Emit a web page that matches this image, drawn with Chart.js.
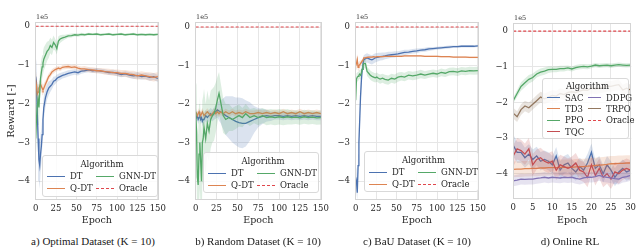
<!DOCTYPE html>
<html>
<head>
<meta charset="utf-8">
<script src="https://cdn.jsdelivr.net/npm/chart.js@4.4.1/dist/chart.umd.min.js"></script>
<style>
    html, body { margin: 0; padding: 0; background: #fff; }
    body { width: 640px; height: 249px; position: relative; overflow: hidden; font-family: 'DejaVu Serif', serif; color: #262626; }
    canvas { position: absolute; top: 0; }
    .legend { position: absolute; box-sizing: border-box; border: 1px solid #d9d9d9; border-radius: 3px; background: rgba(255,255,255,0.82); font-size: 8.5px; color: #262626; }
    .legend .ttl { text-align: center; line-height: 12px; }
    .legend .grid { display: grid; grid-auto-flow: column; }
    .legend .item { display: flex; align-items: center; white-space: nowrap; }
    .legend .hd { display: inline-block; height: 0; margin-right: 5px; }
    .caption { position: absolute; top: 235px; font-family: 'Liberation Serif', serif; font-size: 11px; color: #1a1a1a; transform: translateX(-50%); white-space: nowrap; }
</style>
</head>
<body>
<canvas id="chartA" width="170" height="226" style="left:0px"></canvas>
<canvas id="chartB" width="168" height="226" style="left:165px"></canvas>
<canvas id="chartC" width="163" height="226" style="left:327px"></canvas>
<canvas id="chartD" width="154" height="226" style="left:486px"></canvas>

<div class="caption" style="left:93px">a) Optimal Dataset (K = 10)</div>
<div class="caption" style="left:258px">b) Random Dataset (K = 10)</div>
<div class="caption" style="left:417px">c) BaU Dataset (K = 10)</div>
<div class="caption" style="left:570px">d) Online RL</div>

<script>
"use strict";

// axes / ticks
var epochsOffline = [0, 1, 2, 3, 4, 5, 6, 7, 8, 9, 10, 12, 14, 16, 18, 20, 22, 24, 26, 28, 30, 33, 36, 40, 44, 48, 52, 56, 60, 65, 70, 75, 80, 85, 90, 95, 100, 105, 110, 115, 120, 125, 130, 135, 140, 145, 150];
var epochsOnline = [0, 1, 2, 3, 4, 5, 6, 7, 8, 9, 10, 11, 12, 13, 14, 15, 16, 17, 18, 19, 20, 21, 22, 23, 24, 25, 26, 27, 28, 29, 30];
var xTicksOffline = [0, 25, 50, 75, 100, 125, 150];
var xTicksOnline = [0, 5, 10, 15, 20, 25, 30];
var yTicks = [0, -1, -2, -3, -4];
var oracleReward = 0; // x 1e5

// a) Optimal dataset  (reward x 1e5)
var optDT = [-1.30, -1.45, -2.20, -2.90, -3.45, -3.60, -3.30, -3.10, -2.80, -2.40, -2.10, -1.85, -1.70, -1.60, -1.55, -1.50, -1.42, -1.40, -1.35, -1.32, -1.30, -1.27, -1.25, -1.22, -1.20, -1.18, -1.20, -1.16, -1.15, -1.13, -1.15, -1.14, -1.16, -1.17, -1.20, -1.19, -1.22, -1.25, -1.23, -1.26, -1.28, -1.27, -1.30, -1.29, -1.32, -1.30, -1.35];
var optDTBand = [0.55, 0.5, 0.45, 0.5, 0.55, 0.6, 0.5, 0.45, 0.4, 0.35, 0.3, 0.25, 0.2, 0.18, 0.15, 0.13, 0.12, 0.1, 0.1, 0.09, 0.09, 0.08, 0.08, 0.08, 0.07, 0.07, 0.07, 0.07, 0.06, 0.06, 0.06, 0.06, 0.06, 0.06, 0.06, 0.07, 0.07, 0.07, 0.07, 0.08, 0.08, 0.08, 0.08, 0.08, 0.09, 0.09, 0.09];
var optQDT = [-1.40, -1.55, -1.75, -1.70, -1.60, -1.55, -1.50, -1.55, -1.60, -1.65, -1.60, -1.50, -1.40, -1.30, -1.25, -1.18, -1.15, -1.12, -1.10, -1.08, -1.10, -1.06, -1.05, -1.04, -1.06, -1.05, -1.08, -1.10, -1.10, -1.12, -1.13, -1.15, -1.15, -1.17, -1.18, -1.20, -1.20, -1.22, -1.22, -1.24, -1.25, -1.28, -1.26, -1.28, -1.30, -1.32, -1.30];
var optQDTBand = [0.3, 0.3, 0.25, 0.2, 0.18, 0.15, 0.15, 0.15, 0.14, 0.13, 0.12, 0.1, 0.09, 0.08, 0.08, 0.07, 0.07, 0.06, 0.06, 0.06, 0.06, 0.06, 0.06, 0.06, 0.06, 0.06, 0.06, 0.06, 0.07, 0.07, 0.07, 0.07, 0.07, 0.08, 0.08, 0.08, 0.08, 0.09, 0.09, 0.09, 0.1, 0.1, 0.1, 0.1, 0.11, 0.11, 0.11];
var optGNN = [-2.90, -2.40, -2.05, -1.90, -2.10, -1.70, -1.35, -1.20, -1.05, -0.95, -0.85, -0.75, -0.65, -0.60, -0.50, -0.55, -0.42, -0.48, -0.58, -0.38, -0.33, -0.30, -0.28, -0.25, -0.24, -0.22, -0.23, -0.21, -0.22, -0.20, -0.21, -0.20, -0.22, -0.21, -0.20, -0.22, -0.21, -0.20, -0.22, -0.21, -0.20, -0.22, -0.21, -0.22, -0.21, -0.22, -0.21];
var optGNNBand = [0.6, 0.6, 0.5, 0.45, 0.45, 0.4, 0.35, 0.35, 0.3, 0.3, 0.3, 0.28, 0.25, 0.22, 0.2, 0.2, 0.18, 0.15, 0.15, 0.12, 0.1, 0.08, 0.06, 0.05, 0.05, 0.04, 0.04, 0.04, 0.04, 0.03, 0.03, 0.03, 0.03, 0.03, 0.03, 0.03, 0.03, 0.03, 0.03, 0.03, 0.03, 0.03, 0.03, 0.03, 0.03, 0.03, 0.03];

// b) Random dataset
var rndDT = [-2.30, -2.35, -2.30, -2.40, -2.35, -2.30, -2.40, -2.35, -2.45, -2.40, -2.40, -2.30, -2.35, -2.30, -2.25, -2.30, -2.25, -2.20, -2.15, -2.18, -2.20, -2.25, -2.30, -2.35, -2.40, -2.45, -2.48, -2.50, -2.50, -2.45, -2.40, -2.35, -2.32, -2.30, -2.32, -2.30, -2.30, -2.32, -2.30, -2.32, -2.30, -2.32, -2.30, -2.32, -2.30, -2.32, -2.32];
var rndDTBand = [0.1, 0.1, 0.12, 0.12, 0.12, 0.12, 0.12, 0.12, 0.13, 0.13, 0.13, 0.14, 0.15, 0.15, 0.15, 0.15, 0.16, 0.18, 0.2, 0.25, 0.3, 0.4, 0.5, 0.55, 0.6, 0.62, 0.65, 0.65, 0.6, 0.5, 0.35, 0.25, 0.2, 0.15, 0.12, 0.1, 0.1, 0.1, 0.1, 0.1, 0.1, 0.1, 0.1, 0.1, 0.1, 0.1, 0.1];
var rndQDT = [-2.20, -2.25, -2.30, -2.25, -2.20, -2.25, -2.30, -2.25, -2.20, -2.25, -2.30, -2.25, -2.20, -2.25, -2.30, -2.25, -2.20, -2.25, -2.20, -2.25, -2.20, -2.25, -2.20, -2.25, -2.20, -2.25, -2.22, -2.25, -2.20, -2.25, -2.25, -2.22, -2.25, -2.22, -2.25, -2.22, -2.25, -2.20, -2.25, -2.22, -2.25, -2.20, -2.25, -2.22, -2.25, -2.22, -2.25];
var rndQDTBand = [0.1, 0.1, 0.1, 0.1, 0.1, 0.1, 0.1, 0.1, 0.1, 0.1, 0.1, 0.09, 0.09, 0.09, 0.09, 0.09, 0.09, 0.09, 0.09, 0.09, 0.08, 0.08, 0.08, 0.08, 0.08, 0.08, 0.08, 0.08, 0.08, 0.08, 0.08, 0.08, 0.08, 0.08, 0.08, 0.08, 0.08, 0.08, 0.08, 0.08, 0.08, 0.08, 0.08, 0.08, 0.08, 0.08, 0.08];
var rndGNN = [-2.20, -2.70, -3.90, -4.10, -3.30, -3.00, -3.50, -4.00, -3.00, -2.90, -2.60, -2.90, -2.50, -2.70, -2.40, -2.30, -2.25, -2.10, -1.90, -1.72, -1.95, -2.30, -2.40, -2.35, -2.40, -2.35, -2.30, -2.35, -2.25, -2.35, -2.30, -2.35, -2.30, -2.35, -2.33, -2.35, -2.33, -2.35, -2.33, -2.35, -2.34, -2.36, -2.33, -2.35, -2.34, -2.36, -2.35];
var rndGNNBand = [0.8, 1.2, 1.3, 1.3, 1.3, 1.2, 1.2, 1.2, 1.1, 1.1, 1.0, 0.9, 0.85, 0.8, 0.75, 0.7, 0.7, 0.65, 0.6, 0.55, 0.5, 0.45, 0.4, 0.35, 0.3, 0.3, 0.28, 0.25, 0.25, 0.22, 0.2, 0.2, 0.2, 0.2, 0.2, 0.2, 0.2, 0.2, 0.2, 0.18, 0.18, 0.18, 0.18, 0.18, 0.18, 0.18, 0.18];

// c) BaU dataset
var bauDT = [-3.90, -4.00, -4.30, -3.60, -3.00, -2.40, -1.80, -1.40, -1.10, -0.95, -0.85, -0.82, -0.80, -0.82, -0.84, -0.85, -0.83, -0.80, -0.79, -0.78, -0.77, -0.76, -0.75, -0.73, -0.72, -0.71, -0.70, -0.68, -0.66, -0.65, -0.63, -0.62, -0.60, -0.59, -0.57, -0.56, -0.55, -0.54, -0.53, -0.52, -0.51, -0.51, -0.50, -0.50, -0.50, -0.50, -0.49];
var bauDTBand = [0.3, 0.3, 0.2, 0.3, 0.35, 0.35, 0.3, 0.25, 0.2, 0.15, 0.12, 0.12, 0.12, 0.12, 0.12, 0.12, 0.12, 0.12, 0.11, 0.11, 0.1, 0.1, 0.09, 0.09, 0.08, 0.08, 0.07, 0.07, 0.07, 0.06, 0.06, 0.06, 0.05, 0.05, 0.05, 0.04, 0.04, 0.04, 0.04, 0.04, 0.03, 0.03, 0.03, 0.03, 0.03, 0.03, 0.03];
var bauQDT = [-1.00, -0.95, -0.85, -1.05, -1.00, -0.98, -0.95, -0.92, -0.88, -0.85, -0.80, -0.80, -0.79, -0.78, -0.78, -0.78, -0.77, -0.78, -0.77, -0.77, -0.77, -0.77, -0.76, -0.76, -0.76, -0.76, -0.76, -0.76, -0.75, -0.75, -0.75, -0.75, -0.75, -0.76, -0.76, -0.76, -0.76, -0.77, -0.77, -0.77, -0.78, -0.78, -0.78, -0.78, -0.79, -0.79, -0.79];
var bauQDTBand = [0.15, 0.15, 0.15, 0.12, 0.1, 0.1, 0.08, 0.06, 0.05, 0.04, 0.03, 0.03, 0.03, 0.03, 0.03, 0.03, 0.02, 0.02, 0.02, 0.02, 0.02, 0.02, 0.02, 0.02, 0.02, 0.02, 0.02, 0.02, 0.02, 0.02, 0.02, 0.02, 0.02, 0.02, 0.02, 0.02, 0.02, 0.02, 0.02, 0.02, 0.02, 0.02, 0.02, 0.02, 0.02, 0.02, 0.02];
var bauGNN = [-1.90, -1.35, -1.30, -1.28, -1.25, -1.22, -1.25, -1.20, -1.10, -1.00, -0.95, -0.95, -1.15, -1.20, -1.25, -1.28, -1.30, -1.32, -1.30, -1.33, -1.35, -1.33, -1.36, -1.38, -1.33, -1.35, -1.30, -1.28, -1.30, -1.25, -1.27, -1.25, -1.22, -1.25, -1.22, -1.20, -1.22, -1.18, -1.20, -1.16, -1.15, -1.17, -1.14, -1.15, -1.13, -1.14, -1.13];
var bauGNNBand = [0.3, 0.15, 0.12, 0.12, 0.12, 0.12, 0.12, 0.12, 0.12, 0.12, 0.12, 0.12, 0.12, 0.12, 0.12, 0.12, 0.12, 0.12, 0.12, 0.12, 0.12, 0.12, 0.12, 0.12, 0.12, 0.12, 0.12, 0.11, 0.11, 0.11, 0.11, 0.11, 0.11, 0.1, 0.1, 0.1, 0.1, 0.1, 0.1, 0.1, 0.1, 0.1, 0.1, 0.1, 0.1, 0.1, 0.1];

// d) Online RL
var onSAC = [-3.20, -3.40, -3.40, -3.55, -3.45, -3.60, -3.50, -3.65, -3.60, -3.65, -3.75, -3.50, -3.90, -3.75, -3.70, -3.85, -3.95, -3.80, -3.90, -3.70, -3.40, -3.85, -3.75, -4.00, -3.75, -3.90, -4.10, -3.95, -3.85, -3.95, -3.90];
var onSACBand = [0.3, 0.3, 0.3, 0.28, 0.28, 0.28, 0.26, 0.26, 0.25, 0.25, 0.25, 0.25, 0.25, 0.25, 0.25, 0.25, 0.25, 0.25, 0.25, 0.25, 0.25, 0.25, 0.25, 0.25, 0.25, 0.25, 0.25, 0.25, 0.25, 0.25, 0.25];
var onTD3 = [-3.88, -3.87, -3.87, -3.86, -3.86, -3.85, -3.85, -3.84, -3.84, -3.83, -3.83, -3.83, -3.82, -3.82, -3.82, -3.82, -3.81, -3.80, -3.80, -3.79, -3.78, -3.77, -3.76, -3.75, -3.74, -3.72, -3.72, -3.71, -3.71, -3.70, -3.70];
var onTD3Band = [0.22, 0.22, 0.22, 0.22, 0.22, 0.22, 0.22, 0.22, 0.22, 0.22, 0.22, 0.22, 0.22, 0.22, 0.22, 0.22, 0.22, 0.22, 0.22, 0.22, 0.22, 0.22, 0.22, 0.22, 0.22, 0.22, 0.22, 0.22, 0.22, 0.22, 0.22];
var onPPO = [-1.95, -1.75, -1.55, -1.45, -1.35, -1.30, -1.20, -1.15, -1.12, -1.08, -1.07, -1.07, -1.05, -1.05, -1.03, -1.06, -1.02, -1.00, -0.99, -1.00, -0.98, -0.95, -0.97, -0.96, -0.95, -0.97, -0.95, -0.94, -0.95, -0.96, -0.95];
var onPPOBand = [0.08, 0.1, 0.12, 0.12, 0.12, 0.11, 0.1, 0.1, 0.1, 0.09, 0.08, 0.08, 0.08, 0.08, 0.07, 0.07, 0.07, 0.07, 0.07, 0.07, 0.06, 0.06, 0.06, 0.06, 0.06, 0.06, 0.06, 0.06, 0.06, 0.06, 0.06];
var onTQC = [-3.50, -3.30, -3.35, -3.45, -3.30, -3.75, -3.60, -3.55, -3.65, -3.70, -3.65, -3.90, -3.75, -3.80, -3.85, -3.80, -3.70, -3.90, -3.95, -4.10, -3.75, -4.05, -3.85, -4.10, -4.00, -4.15, -3.95, -4.00, -3.90, -3.85, -3.90];
var onTQCBand = [0.3, 0.3, 0.3, 0.3, 0.3, 0.3, 0.28, 0.28, 0.28, 0.28, 0.28, 0.28, 0.28, 0.28, 0.28, 0.28, 0.28, 0.28, 0.28, 0.28, 0.28, 0.28, 0.28, 0.28, 0.28, 0.28, 0.28, 0.28, 0.28, 0.28, 0.28];
var onDDPG = [-4.20, -4.18, -4.15, -4.16, -4.15, -4.15, -4.13, -4.12, -4.10, -4.12, -4.10, -4.11, -4.12, -4.10, -4.11, -4.10, -4.13, -4.15, -4.12, -4.10, -4.10, -4.08, -4.05, -4.08, -4.10, -4.12, -4.14, -4.15, -4.10, -4.08, -4.05];
var onDDPGBand = [0.15, 0.15, 0.15, 0.15, 0.15, 0.15, 0.15, 0.15, 0.15, 0.15, 0.15, 0.15, 0.15, 0.15, 0.15, 0.15, 0.15, 0.15, 0.15, 0.15, 0.15, 0.15, 0.15, 0.15, 0.15, 0.15, 0.15, 0.15, 0.15, 0.15, 0.15];
var onTRPO = [-2.30, -2.40, -2.20, -2.10, -2.15, -2.05, -1.95, -1.85, -1.90, -1.85, -1.80, -1.82, -1.75, -1.78, -1.72, -1.70, -1.72, -1.68, -1.65, -1.66, -1.60, -1.62, -1.60, -1.58, -1.55, -1.55, -1.52, -1.50, -1.65, -1.60, -1.65];
var onTRPOBand = [0.15, 0.15, 0.15, 0.15, 0.15, 0.15, 0.15, 0.15, 0.15, 0.15, 0.15, 0.15, 0.15, 0.15, 0.15, 0.15, 0.15, 0.15, 0.15, 0.15, 0.15, 0.15, 0.15, 0.15, 0.15, 0.15, 0.15, 0.15, 0.15, 0.15, 0.15];

// seaborn "deep"
var C_BLUE = '#4c72b0', C_ORANGE = '#dd8452', C_GREEN = '#55a868', C_RED = '#c44e52',
    C_PURPLE = '#8172b3', C_BROWN = '#937860', C_ORACLE = '#e0474c';

Chart.defaults.font.family = "'DejaVu Serif', serif";
Chart.defaults.color = '#262626';

function rgba(hex, a) {
    var n = parseInt(hex.slice(1), 16);
    return 'rgba(' + (n >> 16) + ',' + ((n >> 8) & 255) + ',' + (n & 255) + ',' + a + ')';
}

function minus(v) {
    return v < 0 ? '\u2212' + Math.abs(v) : '' + v;
}

// frame round the plot + the "1e5" offset text
var framePlugin = {
    id: 'frame',
    afterDraw: function (chart) {
        var a = chart.chartArea, ctx = chart.ctx;
        ctx.save();
        ctx.strokeStyle = '#d4d4d4';
        ctx.lineWidth = 1;
        ctx.strokeRect(Math.round(a.left) + 0.5, Math.round(a.top) + 0.5, Math.round(a.right - a.left) - 1, Math.round(a.bottom - a.top) - 1);
        ctx.fillStyle = '#333';
        ctx.font = "6.5px 'DejaVu Serif'";
        ctx.textBaseline = 'bottom';
        ctx.fillText('1e5', a.left + 1, a.top - 1);
        ctx.restore();
    }
};

function makePanel(id, p) {
    var datasets = [];
    p.series.forEach(function (s) {
        datasets.push({
            data: p.epochs.map(function (x, i) { return { x: x, y: s.mean[i] - s.band[i] }; }),
            borderWidth: 0, pointRadius: 0, fill: false
        });
        datasets.push({
            data: p.epochs.map(function (x, i) { return { x: x, y: s.mean[i] + s.band[i] }; }),
            borderWidth: 0, pointRadius: 0, fill: '-1', backgroundColor: rgba(s.color, 0.2)
        });
        datasets.push({
            data: p.epochs.map(function (x, i) { return { x: x, y: s.mean[i] }; }),
            borderColor: s.color, borderWidth: 1.3, pointRadius: 0, fill: false
        });
    });
    datasets.push({
        data: p.epochs.map(function (x) { return { x: x, y: oracleReward }; }),
        borderColor: C_ORACLE, borderWidth: 1.2, borderDash: [3, 2], pointRadius: 0, fill: false
    });
    datasets.forEach(function (d, i) { d.order = -i; d.tension = 0; });

    return new Chart(document.getElementById(id), {
        type: 'line',
        data: { datasets: datasets },
        plugins: [framePlugin],
        options: {
            responsive: false,
            animation: false,
            events: [],
            layout: { padding: { left: 0, right: p.padRight, top: p.padTop, bottom: 0 } },
            plugins: { legend: { display: false }, tooltip: { enabled: false } },
            scales: {
                x: {
                    type: 'linear', min: p.xMin, max: p.xMax,
                    afterBuildTicks: function (s) { s.ticks = p.xTicks.map(function (v) { return { value: v }; }); },
                    afterFit: function (s) { s.height = p.xAxisHeight; },
                    grid: { color: '#e6e6e6', drawTicks: false },
                    border: { display: false },
                    ticks: { padding: 4, font: { size: 8.5 }, maxRotation: 0 },
                    title: { display: true, text: 'Epoch', font: { size: 9.5 }, padding: { top: 0, bottom: 0 } }
                },
                y: {
                    min: p.yMin, max: p.yMax,
                    afterBuildTicks: function (s) { s.ticks = yTicks.map(function (v) { return { value: v }; }); },
                    afterFit: function (s) { s.width = p.yAxisWidth; },
                    grid: { color: '#e6e6e6', drawTicks: false },
                    border: { display: false },
                    ticks: { padding: 5, font: { size: 8.5 }, callback: minus },
                    title: { display: !!p.yTitle, text: p.yTitle || '', font: { size: 10 }, padding: { top: 5, bottom: 0 } }
                }
            }
        }
    });
}

// html legend, matplotlib style (title + column-major entries)
function addLegend(box, items, rows, colW, handleW) {
    var el = document.createElement('div');
    el.className = 'legend';
    el.style.left = box[0] + 'px';
    el.style.top = box[1] + 'px';
    el.style.width = box[2] + 'px';
    el.style.height = box[3] + 'px';
    el.style.padding = box[4] + 'px 0 0 4px';
    var html = '<div class="ttl">Algorithm</div><div class="grid" style="grid-template-rows:repeat(' + rows + ',' + box[5] + 'px);grid-template-columns:' + colW + 'px auto">';
    items.forEach(function (it) {
        var line = it.dash ? '1.2px dashed ' : '1.4px solid ';
        html += '<div class="item"><span class="hd" style="width:' + handleW + 'px;border-top:' + line + it.color + '"></span>' + it.name + '</div>';
    });
    el.innerHTML = html + '</div>';
    document.body.appendChild(el);
}

var offlineLegend = [
    { name: 'DT', color: C_BLUE },
    { name: 'Q-DT', color: C_ORANGE },
    { name: 'GNN-DT', color: C_GREEN },
    { name: 'Oracle', color: C_ORACLE, dash: true }
];

makePanel('chartA', {
    epochs: epochsOffline, xTicks: xTicksOffline, xMin: -0.8, xMax: 151, yMin: -4.49, yMax: 0.11,
    yAxisWidth: 35, padRight: 10, padTop: 22, xAxisHeight: 26, yTitle: 'Reward [-]',
    series: [
        { color: C_BLUE, mean: optDT, band: optDTBand },
        { color: C_ORANGE, mean: optQDT, band: optQDTBand },
        { color: C_GREEN, mean: optGNN, band: optGNNBand }
    ]
});
makePanel('chartB', {
    epochs: epochsOffline, xTicks: xTicksOffline, xMin: -0.8, xMax: 151, yMin: -4.49, yMax: 0.13,
    yAxisWidth: 30, padRight: 10, padTop: 22, xAxisHeight: 26,
    series: [
        { color: C_BLUE, mean: rndDT, band: rndDTBand },
        { color: C_ORANGE, mean: rndQDT, band: rndQDTBand },
        { color: C_GREEN, mean: rndGNN, band: rndGNNBand }
    ]
});
makePanel('chartC', {
    epochs: epochsOffline, xTicks: xTicksOffline, xMin: -0.8, xMax: 151, yMin: -4.49, yMax: 0.13,
    yAxisWidth: 28, padRight: 10, padTop: 22, xAxisHeight: 26,
    series: [
        { color: C_BLUE, mean: bauDT, band: bauDTBand },
        { color: C_ORANGE, mean: bauQDT, band: bauQDTBand },
        { color: C_GREEN, mean: bauGNN, band: bauGNNBand }
    ]
});
makePanel('chartD', {
    epochs: epochsOnline, xTicks: xTicksOnline, xMin: -0.05, xMax: 30.2, yMin: -4.71, yMax: 0.23,
    yAxisWidth: 27, padRight: 8, padTop: 23, xAxisHeight: 27,
    series: [
        { color: C_BLUE, mean: onSAC, band: onSACBand },
        { color: C_ORANGE, mean: onTD3, band: onTD3Band },
        { color: C_GREEN, mean: onPPO, band: onPPOBand },
        { color: C_RED, mean: onTQC, band: onTQCBand },
        { color: C_PURPLE, mean: onDDPG, band: onDDPGBand },
        { color: C_BROWN, mean: onTRPO, band: onTRPOBand }
    ]
});

addLegend([42, 155, 116, 42, 2, 12], offlineLegend, 2, 49, 18);
addLegend([203, 152, 116, 41, 2, 12], offlineLegend, 2, 49, 18);
addLegend([364, 151, 115, 41, 2, 12], offlineLegend, 2, 49, 18);
addLegend([542, 78, 87, 61, 1, 11.3], [
    { name: 'SAC', color: C_BLUE },
    { name: 'TD3', color: C_ORANGE },
    { name: 'PPO', color: C_GREEN },
    { name: 'TQC', color: C_RED },
    { name: 'DDPG', color: C_PURPLE },
    { name: 'TRPO', color: C_BROWN },
    { name: 'Oracle', color: C_ORACLE, dash: true }
], 4, 41, 13);
</script>
</body>
</html>
